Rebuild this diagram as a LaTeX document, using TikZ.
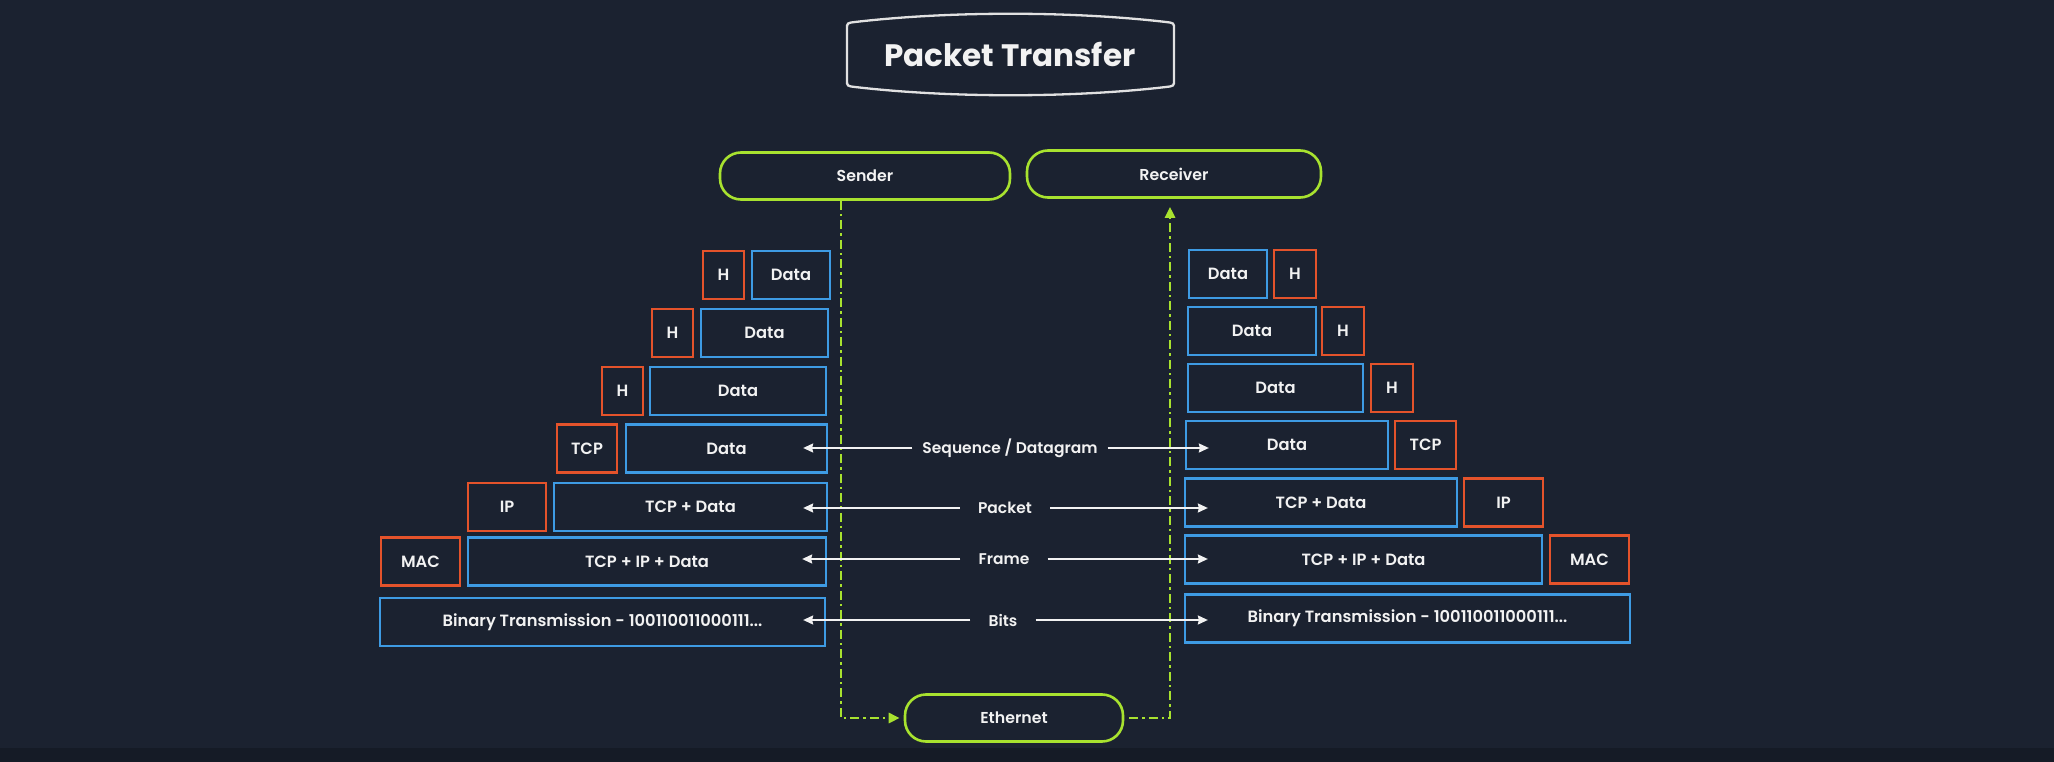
\documentclass[tikz,border=0pt]{standalone}
\usepackage{fontspec}
\setmainfont{Poppins}
\IfFontExistsTF{Poppins SemiBold}{\newfontfamily\semib{Poppins SemiBold}}{\newfontfamily\semib{Poppins}[FakeBold=2]}
\usetikzlibrary{arrows.meta}
\definecolor{bg}{HTML}{1B2230}
\definecolor{bgdark}{HTML}{151B26}
\definecolor{hdr}{HTML}{E4532B}
\definecolor{dat}{HTML}{3E9BE3}
\definecolor{grn}{HTML}{A8E22F}
\definecolor{txt}{HTML}{F2F2F2}
\begin{document}
\begin{tikzpicture}[x=1pt,y=-1pt,
  box/.style={draw, line width=2.3pt, minimum height=48pt, inner sep=0pt, text=txt,
    font=\semib\fontsize{16.3}{18}\selectfont},
  hbox/.style={box, draw=hdr},
  dbox/.style={box, draw=dat},
  pill/.style={draw=grn, line width=2.6pt, rounded corners=21pt, minimum height=47pt,
    inner sep=0pt, text=txt, font=\semib\fontsize{15.8}{17}\selectfont},
  gline/.style={grn, line width=2.6pt, dash pattern=on 9pt off 4pt on 2.5pt off 4pt},
  garrow/.style={gline, -{Stealth[length=11pt,width=10pt,inset=0pt]}},
  warrow/.style={txt, line width=1.8pt, -{Stealth[length=10pt,width=9pt,inset=1pt]}},
  lab/.style={text=txt, font=\semib\fontsize{15.5}{17}\selectfont, inner xsep=18pt, inner ysep=2pt}
]
\fill[bg] (0,0) rectangle (2054,762);
\fill[bgdark] (0,748) rectangle (2054,762);
\useasboundingbox (0,0) rectangle (2054,762);

% title
\draw[txt!85!gray, line width=2.3pt]
  (847,80) -- (847,29) .. controls (847,23) .. (855,22)
  .. controls (950,11) and (1071,11) .. (1166,22)
  .. controls (1174,23) .. (1174,29) -- (1174,80)
  .. controls (1174,86) .. (1166,87)
  .. controls (1071,98) and (950,98) .. (855,87)
  .. controls (847,86) .. cycle;
\node[text=txt, font=\bfseries\fontsize{31}{34}\selectfont] (title) at (1010,54) {Packet Transfer};

% end points
\node[pill, minimum width=290pt] (sender) at (865,176) {Sender};
\node[pill, minimum width=294pt] (receiver) at (1174,174) {Receiver};
\node[pill, minimum width=218pt] (eth) at (1014,718) {Ethernet};

% left stack
\node[hbox, minimum width=41pt] (l1h) at (723.5,275) {H};
\node[dbox, minimum width=78pt] (l1d) at (791,275) {Data};
\node[hbox, minimum width=41pt] (l2h) at (672.5,333) {H};
\node[dbox, minimum width=127pt] (l2d) at (764.5,333) {Data};
\node[hbox, minimum width=41pt] (l3h) at (622.5,391) {H};
\node[dbox, minimum width=176pt] (l3d) at (738,391) {Data};
\node[hbox, minimum width=60pt] (l4h) at (587,448.5) {TCP};
\node[dbox, minimum width=201pt] (l4d) at (726.5,448.5) {Data};
\node[hbox, minimum width=78pt] (l5h) at (507,507) {IP};
\node[dbox, minimum width=273pt] (l5d) at (690.5,507) {TCP + Data};
\node[hbox, minimum width=79pt] (l6h) at (420.5,561.5) {MAC};
\node[dbox, minimum width=358pt] (l6d) at (647,561.5) {TCP + IP + Data};
\node[dbox, minimum width=445pt] (l7d) at (602.5,622) {Binary Transmission - 100110011000111...};

% right stack
\node[dbox, minimum width=78pt] (r1d) at (1228,274) {Data};
\node[hbox, minimum width=42pt] (r1h) at (1295,274) {H};
\node[dbox, minimum width=128pt] (r2d) at (1252,331) {Data};
\node[hbox, minimum width=42pt] (r2h) at (1343,331) {H};
\node[dbox, minimum width=175pt] (r3d) at (1275.5,388) {Data};
\node[hbox, minimum width=42pt] (r3h) at (1392,388) {H};
\node[dbox, minimum width=202pt] (r4d) at (1287,445) {Data};
\node[hbox, minimum width=61pt] (r4h) at (1425.5,445) {TCP};
\node[dbox, minimum width=272pt] (r5d) at (1321,502.5) {TCP + Data};
\node[hbox, minimum width=79pt] (r5h) at (1503.5,502.5) {IP};
\node[dbox, minimum width=357pt] (r6d) at (1363.5,559.5) {TCP + IP + Data};
\node[hbox, minimum width=79pt] (r6h) at (1589.5,559.5) {MAC};
\node[dbox, minimum width=445pt] (r7d) at (1407.5,618.5) {Binary Transmission - 100110011000111...};

% green link lines
\draw[garrow, shorten >=4pt] ([xshift=-24pt]sender.south) |- (eth.west);
\draw[garrow, shorten <=5pt, shorten >=8pt] (eth.east) -| ([xshift=-4pt]receiver.south);

% labels
\node[lab, inner xsep=10pt] (seq) at (1010,448) {Sequence / Datagram};
\node[lab] (pkt) at (1005,508) {Packet};
\node[lab] (frm) at (1004,559) {Frame};
\node[lab] (bit) at (1003,620) {Bits};

\draw[warrow] (seq.west) -- ([xshift=-25pt]l4d.east |- seq.west);
\draw[warrow] (seq.east) -- ([xshift=24pt]r4d.west |- seq.east);
\draw[warrow] (pkt.west) -- ([xshift=-25pt]l5d.east |- pkt.west);
\draw[warrow] (pkt.east) -- ([xshift=24pt]r5d.west |- pkt.east);
\draw[warrow] (frm.west) -- ([xshift=-25pt]l6d.east |- frm.west);
\draw[warrow] (frm.east) -- ([xshift=24pt]r6d.west |- frm.east);
\draw[warrow] (bit.west) -- ([xshift=-23pt]l7d.east |- bit.west);
\draw[warrow] (bit.east) -- ([xshift=24pt]r7d.west |- bit.east);
\end{tikzpicture}
\end{document}
